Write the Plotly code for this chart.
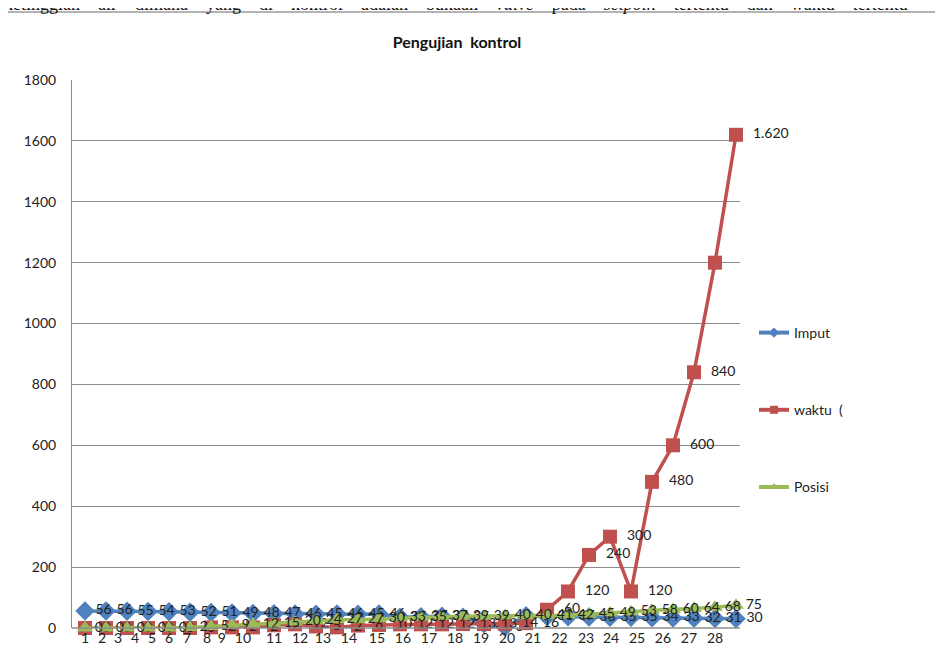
import plotly.graph_objects as go

# ---- data ----
point_index = list(range(1, 33))
imput = [56, 56, 55, 54, 53, 52, 51, 49, 48, 47, 46, 45, 46, 45, 46, 35,
         37, 39, 35, 14, 3, 40, 38, 37, 36, 35, 35, 34, 33, 32, 31, 30]
waktu = [0, 0, 0, 0, 0, 0, 2, 2, 2, 9, 12, 5, 2, 8, 10, 12,
         12, 12, 13, 13, 14, 16, 60, 120, 240, 300, 120, 480, 600, 840, 1200, 1620]
posisi = [0, 0, 0, 0, 0, 2, 5, 9, 12, 15, 20, 24, 27, 27, 30, 33,
          35, 37, 39, 39, 40, 40, 41, 42, 45, 49, 53, 58, 60, 64, 68, 75]
tick_labels = [str(i) for i in range(1, 29)]
tick_positions = [1.0, 1.81, 2.57, 3.38, 4.19, 5.0, 5.86, 6.81, 7.52, 8.52,
                  10.0, 11.24, 12.33, 13.57, 14.9, 16.14, 17.38, 18.62, 19.86,
                  21.1, 22.33, 23.6, 24.86, 26.05, 27.29, 28.52, 29.76, 31.0]
hidden_red_labels = {1200}

BLUE = "#4F81BD"
RED = "#C0504D"
GREEN = "#9BBB59"
FONT = "Lato, 'Open Sans', sans-serif"
OFF = 8  # page body margin


def fmt(v):
    if v >= 1000:
        return f"{v // 1000}.{v % 1000:03d}"
    return str(v)


fig = go.Figure()
series = [
    ("Imput", imput, BLUE, "diamond", 15, [fmt(v) for v in imput]),
    ("waktu  (", waktu, RED, "square", 14,
     ["" if v in hidden_red_labels else "\u00a0\u00a0" + fmt(v) for v in waktu]),
    ("Posisi", posisi, GREEN, "triangle-up", 14, [fmt(v) for v in posisi]),
]
for name, vals, col, sym, size, txt in series:
    fig.add_trace(go.Scatter(
        x=point_index, y=vals, name=name, showlegend=False,
        mode="lines+markers+text", text=txt, cliponaxis=False,
        textposition="middle right",
        textfont=dict(size=14, color="#222", family=FONT),
        line=dict(color=col, width=3.5),
        marker=dict(symbol=sym, size=size, color=col)))
for i, (name, vals, col, sym, size, txt) in enumerate(series):
    fig.add_trace(go.Scatter(
        x=[None], y=[None], name=name, legendgroup=f"g{i}",
        mode="lines+markers", line=dict(color=col, width=4),
        marker=dict(symbol=sym, size=8, color=col)))

W, H = 943 - OFF, 671 - OFF
L, R, T, B = 72 - OFF, 943 - 740, 80 - OFF, 671 - 628
pw, ph = W - L - R, H - T - B


def px_x(p):
    return (p - OFF - L) / pw


def px_y(p):
    return (H - B - (p - OFF)) / ph


sp = "\u00a0" * 4
sentence = sp.join(["ketinggian", "air", "dimana", "yang", "di", "kontrol", "adalah",
                    "bukaan", "<i>valve</i>", "pada", "<i>setpoin</i>", "tertentu",
                    "dan", "waktu", "tertentu"])

fig.update_layout(
    width=W, height=H,
    margin=dict(l=L, r=R, t=T, b=B),
    paper_bgcolor="white", plot_bgcolor="white",
    font=dict(family=FONT, color="#222", size=14),
    title=dict(text="<b>Pengujian  kontrol</b>", x=px_x(457), xanchor="center",
               xref="paper", y=1 - (42 - OFF) / H, yanchor="middle",
               font=dict(size=16, family=FONT, color="#111")),
    showlegend=True,
    legend=dict(x=px_x(754), y=px_y(317), xanchor="left", yanchor="top",
                traceorder="grouped", tracegroupgap=56,
                font=dict(size=14, family=FONT, color="#222"),
                bgcolor="rgba(0,0,0,0)"),
    xaxis=dict(range=[0.381, 32.19], tickmode="array", tickvals=tick_positions,
               ticktext=tick_labels, showgrid=False, zeroline=False,
               showline=False, ticks="", tickfont=dict(size=14, color="#222")),
    yaxis=dict(range=[0, 1800], dtick=200, showgrid=True, gridcolor="#8c8c8c",
               gridwidth=1, zeroline=False, showline=True, linecolor="#8c8c8c",
               linewidth=1, ticks="", ticklabelstandoff=12,
               tickfont=dict(size=14, color="#222")),
    shapes=[dict(type="line", xref="paper", yref="paper", x0=0, x1=1, y0=0, y1=0,
                 line=dict(color="#8c8c8c", width=1.5)),
            dict(type="rect", xref="paper", yref="paper",
                 x0=px_x(5), x1=px_x(950), y0=px_y(12), y1=px_y(680),
                 line=dict(color="#9a9a9a", width=1.5), layer="below")],
    annotations=[dict(
        xref="paper", yref="paper", x=px_x(2), y=px_y(4), xanchor="left",
        yanchor="middle", showarrow=False, text=sentence,
        font=dict(family="'Liberation Serif', serif", size=18, color="#111"))],
)

fig.write_html("out.html")
